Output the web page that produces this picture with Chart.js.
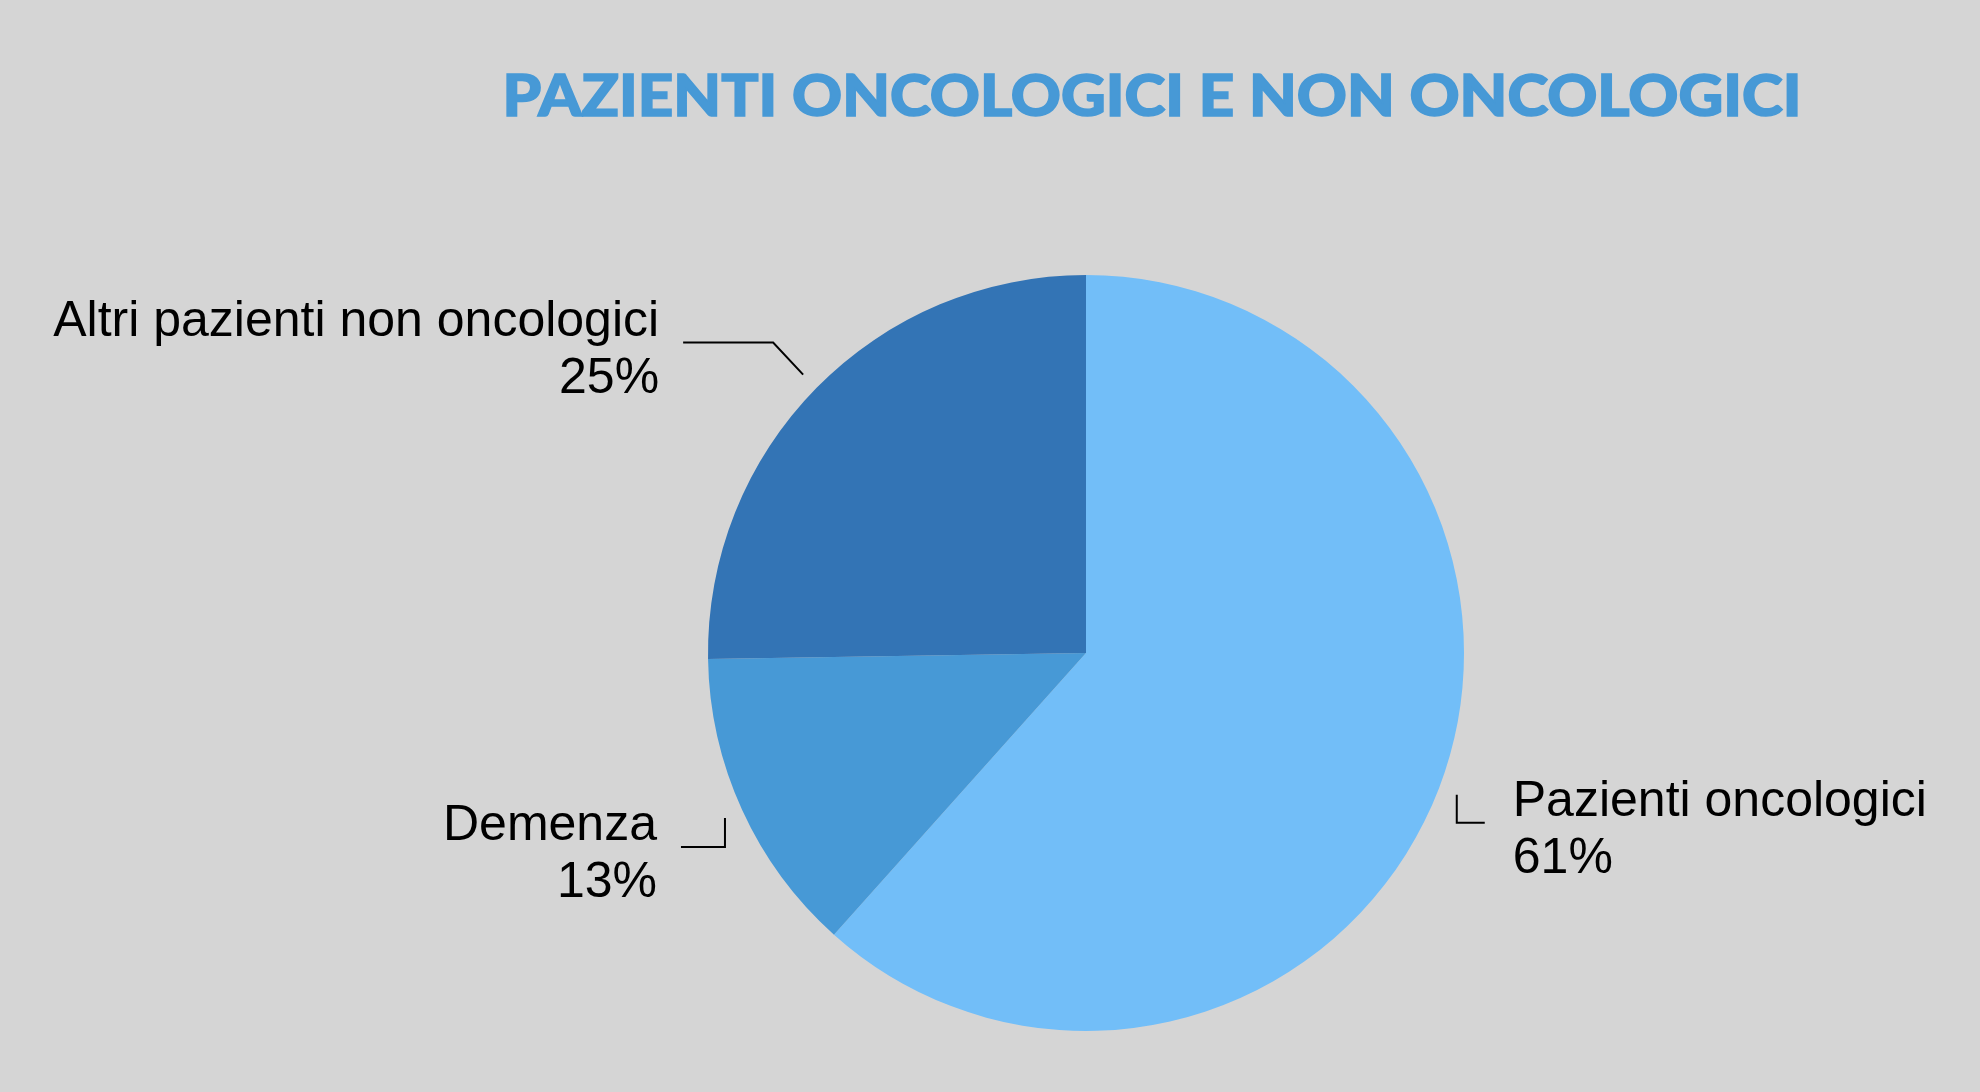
<!DOCTYPE html>
<html>
<head>
<meta charset="utf-8">
<script src="https://cdn.jsdelivr.net/npm/chart.js@4"></script>
<style>
  html, body { margin: 0; padding: 0; background: #d5d5d5; }
  #wrap { width: 1980px; height: 1092px; position: relative; }
</style>
</head>
<body>
<div id="wrap"><canvas id="pieChart"></canvas></div>
<script>
// data
var labels = ['Pazienti oncologici', 'Demenza', 'Altri pazienti non oncologici'];
var values = [61, 13, 25];
var colors = ['#72bef8', '#4799d6', '#3374b5'];
var titleText = 'PAZIENTI ONCOLOGICI E NON ONCOLOGICI';

// leader line shape per slice: elbow and end offsets from the anchor point
var leaders = [
  { elbow: [0, 28], end: [28, 28], side: 'right' },
  { elbow: [0, 29], end: [-44, 29], side: 'left' },
  { elbow: [-30, -32], end: [-120, -32], side: 'left' }
];

var titlePlugin = {
  id: 'customTitle',
  afterDraw: function(chart) {
    var ctx = chart.ctx;
    ctx.save();
    ctx.font = '900 57px "Lato Black", Lato, sans-serif';
    ctx.fillStyle = '#4799d6';
    ctx.textBaseline = 'alphabetic';
    ctx.textAlign = 'center';
    var w = ctx.measureText(titleText).width;
    var sx = 1299 / w;
    ctx.translate(1152, 116);
    ctx.scale(sx, 1);
    ctx.lineWidth = 1.5;
    ctx.strokeStyle = '#4799d6';
    ctx.fillText(titleText, 0, 0);
    ctx.strokeText(titleText, 0, 0);
    ctx.restore();
  }
};

var labelPlugin = {
  id: 'sliceLabels',
  afterDraw: function(chart) {
    var ctx = chart.ctx;
    var meta = chart.getDatasetMeta(0);
    ctx.save();
    ctx.strokeStyle = '#000';
    ctx.lineWidth = 2;
    ctx.fillStyle = '#000';
    ctx.font = '50px "Liberation Sans", Arial, sans-serif';
    meta.data.forEach(function(arc, i) {
      var p = arc.getProps(['x', 'y', 'startAngle', 'endAngle', 'outerRadius'], true);
      var mid = (p.startAngle + p.endAngle) / 2;
      var ax = p.x + Math.cos(mid) * p.outerRadius * 1.05;
      var ay = p.y + Math.sin(mid) * p.outerRadius * 1.05;
      var l = leaders[i];
      var ex = ax + l.end[0], ey = ay + l.end[1];
      ctx.beginPath();
      ctx.moveTo(ax, ay);
      ctx.lineTo(ax + l.elbow[0], ay + l.elbow[1]);
      ctx.lineTo(ex, ey);
      ctx.stroke();
      var tx = l.side === 'right' ? ex + 28 : ex - 24;
      ctx.textAlign = l.side === 'right' ? 'left' : 'right';
      ctx.textBaseline = 'alphabetic';
      ctx.fillText(labels[i], tx, ey - 7);
      ctx.fillText(values[i] + '%', tx, ey + 50);
    });
    ctx.restore();
  }
};

var ctx = document.getElementById('pieChart').getContext('2d');
var pieChart = new Chart(ctx, {
  type: 'pie',
  data: {
    labels: labels,
    datasets: [{
      data: values,
      backgroundColor: colors,
      borderWidth: 0
    }]
  },
  options: {
    responsive: true,
    maintainAspectRatio: false,
    animation: false,
    layout: { padding: { left: 700, right: 508, top: 275, bottom: 61 } },
    plugins: {
      legend: { display: false },
      tooltip: { enabled: false },
      title: { display: false }
    }
  },
  plugins: [titlePlugin, labelPlugin]
});
</script>
</body>
</html>
